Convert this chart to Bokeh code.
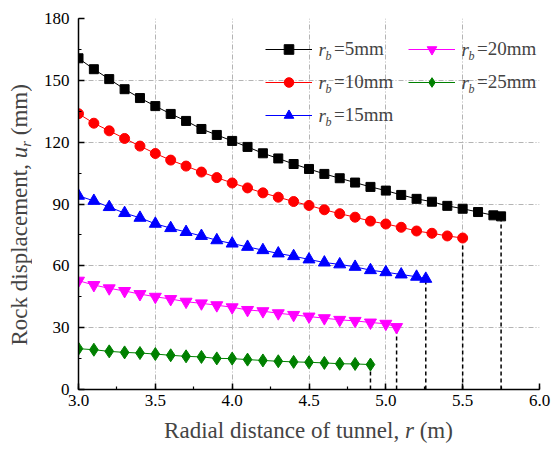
import numpy as np
from bokeh.plotting import figure
from bokeh.layouts import row, column
from bokeh.models import (Legend, LegendItem, Label, SingleIntervalTicker,
                          FixedTicker, NumeralTickFormatter, Range1d)
from bokeh.embed import file_html
from bokeh.resources import INLINE

# ---------------- data ----------------
r_5 = [3.0, 3.1, 3.2, 3.3, 3.4, 3.5, 3.6, 3.7, 3.8, 3.9, 4.0, 4.1, 4.2, 4.3, 4.4,
       4.5, 4.6, 4.7, 4.8, 4.9, 5.0, 5.1, 5.2, 5.3, 5.4, 5.5, 5.6, 5.7, 5.75]
u_5 = [160.7, 155.4, 150.6, 145.7, 141.4, 137.5, 133.7, 130.3, 126.4, 123.5,
       120.6, 117.7, 114.6, 112.1, 109.4, 107.0, 104.6, 102.5, 100.4, 98.3,
       96.5, 94.4, 92.5, 91.1, 89.1, 87.7, 86.1, 84.5, 84.0]

r_10 = [3.0, 3.1, 3.2, 3.3, 3.4, 3.5, 3.6, 3.7, 3.8, 3.9, 4.0, 4.1, 4.2, 4.3,
        4.4, 4.5, 4.6, 4.7, 4.8, 4.9, 5.0, 5.1, 5.2, 5.3, 5.4, 5.5]
u_10 = [133.8, 129.2, 125.5, 121.8, 118.1, 114.5, 111.3, 108.4, 105.5, 102.8,
        100.2, 97.8, 95.4, 93.3, 91.2, 89.3, 87.2, 85.3, 83.6, 81.7, 80.3,
        78.7, 76.9, 75.8, 74.5, 73.5]

r_15 = [3.0, 3.1, 3.2, 3.3, 3.4, 3.5, 3.6, 3.7, 3.8, 3.9, 4.0, 4.1, 4.2, 4.3,
        4.4, 4.5, 4.6, 4.7, 4.8, 4.9, 5.0, 5.1, 5.2, 5.26]
u_15 = [94.0, 91.5, 88.5, 85.6, 83.3, 80.4, 78.3, 76.4, 74.5, 72.4, 70.8, 69.2,
        67.6, 66.0, 64.7, 63.1, 61.6, 60.7, 59.5, 57.9, 56.9, 55.8, 54.7, 53.7]

r_20 = [3.0, 3.1, 3.2, 3.3, 3.4, 3.5, 3.6, 3.7, 3.8, 3.9, 4.0, 4.1, 4.2, 4.3,
        4.4, 4.5, 4.6, 4.7, 4.8, 4.9, 5.0, 5.07]
u_20 = [52.8, 50.7, 49.1, 47.8, 46.3, 45.0, 43.9, 42.6, 41.8, 40.9, 39.9, 38.6,
        38.0, 37.0, 36.2, 35.4, 34.6, 33.8, 33.3, 32.5, 31.9, 30.3]

r_25 = [3.0, 3.1, 3.2, 3.3, 3.4, 3.5, 3.6, 3.7, 3.8, 3.9, 4.0, 4.1, 4.2, 4.3,
        4.4, 4.5, 4.6, 4.7, 4.8, 4.9]
u_25 = [19.8, 19.3, 18.5, 18.0, 17.7, 17.2, 16.6, 16.1, 15.8, 15.1, 15.0, 14.5,
        14.1, 13.7, 13.4, 13.2, 12.9, 12.5, 12.4, 12.1]

legend_values = ["=5mm", "=10mm", "=15mm", "=20mm", "=25mm"]
x_title = ["Radial distance of tunnel,", "r", "(m)"]
y_title = ["Rock displacement,", "u", "r", "(mm)"]
x_ticks_major = 0.5
y_ticks_major = 30

FONT = "Liberation Serif"

# ---------------- layout constants (page pixels) ----------------
W, H = 551, 454
YL_W = 32                    # strip holding the y-axis title
XL_H = 38                    # strip holding the x-axis title
MW, MH = W - YL_W, H - XL_H  # main figure size
FL, FR, FT, FB = 78, 539, 18, 389   # frame edges on the page
X0, X1, Y0, Y1 = 3.0, 6.0, 0.0, 180.0

p = figure(width=MW, height=MH, output_backend="svg", toolbar_location=None,
           x_range=Range1d(X0, X1), y_range=Range1d(Y0, Y1),
           min_border_left=FL - YL_W, min_border_right=W - FR,
           min_border_top=FT, min_border_bottom=MH - FB)
p.outline_line_color = None
p.background_fill_color = "white"
p.border_fill_color = "white"

# axes
p.xaxis.ticker = SingleIntervalTicker(interval=x_ticks_major, num_minor_ticks=2)
p.yaxis.ticker = SingleIntervalTicker(interval=y_ticks_major, num_minor_ticks=2)
p.xaxis.formatter = NumeralTickFormatter(format="0.0")
for ax in (p.xaxis, p.yaxis):
    ax.axis_line_width = 1.5
    ax.axis_line_color = "black"
    ax.major_tick_in = 6
    ax.major_tick_out = 0
    ax.minor_tick_in = 3
    ax.minor_tick_out = 0
    ax.major_tick_line_width = 1.5
    ax.minor_tick_line_width = 1.2
    ax.major_tick_line_color = "black"
    ax.minor_tick_line_color = "black"
    ax.major_label_text_font = FONT
    ax.major_label_text_font_size = "17px"
    ax.major_label_text_color = "black"
p.xaxis.major_label_standoff = 5
p.yaxis.major_label_standoff = 9

# grid (dash-dot, inner lines only)
p.xgrid.ticker = FixedTicker(ticks=[3.5, 4.0, 4.5, 5.0, 5.5])
p.ygrid.ticker = FixedTicker(ticks=[30, 60, 90, 120, 150])
for g in (p.xgrid, p.ygrid):
    g.grid_line_color = "#b4b4b4"
    g.grid_line_dash = "5 2 1 2"
    g.grid_line_width = 1

series = [
    (r_5, u_5, "#000000", "square", 9),
    (r_10, u_10, "#ff0000", "circle", 10),
    (r_15, u_15, "#0000ff", "triangle", 12),
    (r_20, u_20, "#ff00ff", "inverted_triangle", 12),
    (r_25, u_25, "#008000", "diamond", 13),
]

# dashed drop lines from the last point of each series
p.segment(x0=[s[0][-1] for s in series], y0=[0] * len(series),
          x1=[s[0][-1] for s in series], y1=[s[1][-1] for s in series],
          line_color="black", line_width=1.5, line_dash="4 3")

items = []
for (xs, ys, col, mk, sz), lab in zip(series, legend_values):
    lr = p.line(xs, ys, line_color=col, line_width=1)
    sr = p.scatter(xs, ys, marker=mk, size=sz, fill_color=col, line_color=col)
    items.append(LegendItem(label=lab, renderers=[lr, sr]))

# legend: two columns, glyph sample + "=..mm"; italic r_b drawn as labels
ROW_H = 33
LEG_TOP = 32
GLYPH_W = 47
STANDOFF = 22
LEG_FS = "19px"
col_lefts = [265, 408]
col_items = [items[:3], items[3:]]
for left, its in zip(col_lefts, col_items):
    h = ROW_H * len(its)
    leg = Legend(items=its, location=(left - FL, FB - LEG_TOP - h),
                 orientation="vertical", padding=0, spacing=0, margin=0,
                 glyph_width=GLYPH_W, glyph_height=24, label_height=ROW_H,
                 label_standoff=STANDOFF, label_text_font=FONT,
                 label_text_font_size=LEG_FS, label_text_baseline="middle",
                 background_fill_alpha=0, border_line_alpha=0)
    p.add_layout(leg)
    for i in range(len(its)):
        cy = LEG_TOP + (i + 0.5) * ROW_H
        tx = left + GLYPH_W + 6 - YL_W
        p.add_layout(Label(x=tx, y=cy, x_units="canvas", y_units="canvas",
                           text="r", text_font=FONT,
                           text_font_style="italic", text_font_size=LEG_FS,
                           text_baseline="middle", text_align="left"))
        p.add_layout(Label(x=tx + 7, y=cy + 7, x_units="canvas", y_units="canvas",
                           text="b", text_font=FONT,
                           text_font_style="italic", text_font_size="12px",
                           text_baseline="middle", text_align="left"))


def strip(w, h, top=0, bottom=0):
    # frame of the strip spans page rows [top, h - bottom]; data = pixels upward
    f = figure(width=w, height=h, output_backend="svg", toolbar_location=None,
               x_range=Range1d(0, w), y_range=Range1d(bottom, h - top),
               x_axis_location=None, y_axis_location=None,
               min_border=0, min_border_left=0, min_border_right=0,
               min_border_top=top, min_border_bottom=bottom)
    f.outline_line_color = None
    f.background_fill_color = "white"
    f.border_fill_color = "white"
    f.grid.visible = False
    return f


AX_FS = 23
# ---- x-axis title (strip below) ----
xs_fig = strip(W, XL_H)
xl_y = XL_H - (430 - MH)
xl_start = 163.6
x_offs = [0, 10.471 * AX_FS, 10.471 * AX_FS + 0.389 * AX_FS + 0.25 * AX_FS]
x_styles = ["normal", "italic", "normal"]
for txt, st, off in zip(x_title, x_styles, x_offs):
    xs_fig.add_layout(Label(x=xl_start + off, y=xl_y, text=txt, text_font=FONT,
                            text_font_style=st, text_font_size=f"{AX_FS}px",
                            text_baseline="middle", text_align="left"))

# ---- y-axis title (strip at left, frame aligned with the main frame) ----
ys_fig = strip(YL_W, MH, top=FT, bottom=MH - FB)
yl_x = 19
yl_start = MH - 345
u_off = 8.138 * AX_FS
r_off = u_off + 0.5 * AX_FS
mm_off = r_off + 0.389 * 15 + 0.25 * AX_FS
y_offs = [0, u_off, r_off, mm_off]
y_styles = ["normal", "italic", "italic", "normal"]
y_sizes = [AX_FS, AX_FS, 15, AX_FS]
y_dx = [0, 0, 6, 0]
for txt, st, fs, off, dx in zip(y_title, y_styles, y_sizes, y_offs, y_dx):
    ys_fig.add_layout(Label(x=yl_x + dx, y=yl_start + off, text=txt, text_font=FONT,
                            text_font_style=st, text_font_size=f"{fs}px",
                            angle=np.pi / 2,
                            text_baseline="middle", text_align="left"))

layout = column(row(ys_fig, p, spacing=0), xs_fig, spacing=0)
open("out.html", "w").write(file_html(layout, INLINE))
